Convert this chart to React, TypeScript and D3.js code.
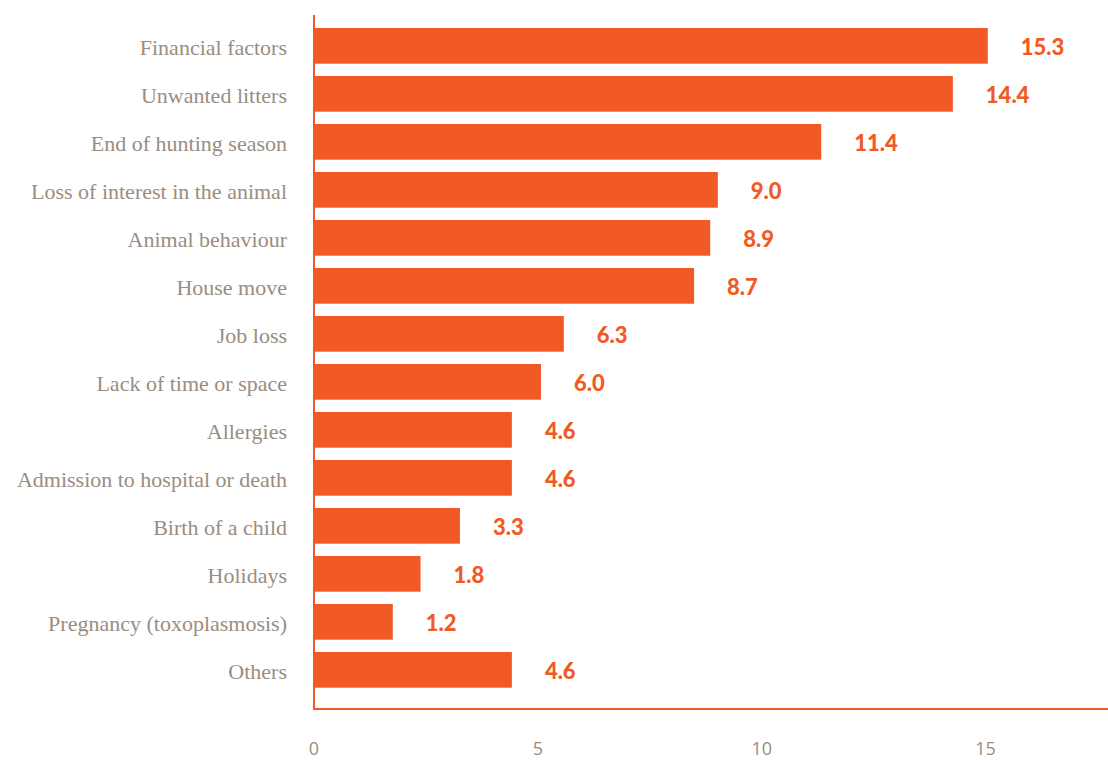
import React from "react";
import * as d3 from "d3";

const categories = [
  "Financial factors",
  "Unwanted litters",
  "End of hunting season",
  "Loss of interest in the animal",
  "Animal behaviour",
  "House move",
  "Job loss",
  "Lack of time or space",
  "Allergies",
  "Admission to hospital or death",
  "Birth of a child",
  "Holidays",
  "Pregnancy (toxoplasmosis)",
  "Others",
];

// printed values
const valueLabels = [15.3, 14.4, 11.4, 9.0, 8.9, 8.7, 6.3, 6.0, 4.6, 4.6, 3.3, 1.8, 1.2, 4.6];
// bar lengths as drawn in the picture (axis units)
const barLengths = [15.05, 14.27, 11.33, 9.02, 8.85, 8.49, 5.58, 5.07, 4.42, 4.42, 3.26, 2.38, 1.76, 4.42];

const xTicks = [0, 5, 10, 15];

const W = 1108;
const H = 760;
const ORANGE = "#f15a24";
const TEXT = "#9a8d7f";

export default function App() {
  const x = d3.scaleLinear().domain([0, 17.735]).range([314, 1108]);
  const y = d3
    .scaleBand<string>()
    .domain(categories)
    .range([28, 687.7])
    .paddingInner(0.256)
    .paddingOuter(0);

  return (
    <svg
      width={W}
      height={H}
      style={{ position: "absolute", left: 0, top: 0, display: "block", background: "#fff" }}
    >
      {categories.map((c, i) => {
        const yy = y(c)!;
        const bw = y.bandwidth();
        return (
          <g key={c}>
            <rect x={x(0)} y={yy} width={x(barLengths[i]) - x(0)} height={bw} fill={ORANGE} />
            <text
              x={287}
              y={yy + bw / 2 + 1.5}
              textAnchor="end"
              dominantBaseline="central"
              fontFamily="'Liberation Serif', serif"
              fontSize={22}
              fill={TEXT}
            >
              {c}
            </text>
            <text
              x={x(barLengths[i]) + 33}
              y={yy + bw / 2 + 1}
              dominantBaseline="central"
              fontFamily="Lato, sans-serif"
              fontWeight={900}
              fontSize={22}
              fill={ORANGE}
            >
              {valueLabels[i].toFixed(1)}
            </text>
          </g>
        );
      })}
      <line x1={x(0)} x2={x(0)} y1={15} y2={710} stroke={ORANGE} strokeWidth={2} />
      <line x1={x(0) - 1} x2={W} y1={709} y2={709} stroke={ORANGE} strokeWidth={2} />
      {xTicks.map((t) => (
        <text
          key={t}
          x={x(t)}
          y={755}
          textAnchor="middle"
          fontFamily="'Open Sans', sans-serif"
          fontSize={18}
          fill={TEXT}
        >
          {t}
        </text>
      ))}
    </svg>
  );
}
